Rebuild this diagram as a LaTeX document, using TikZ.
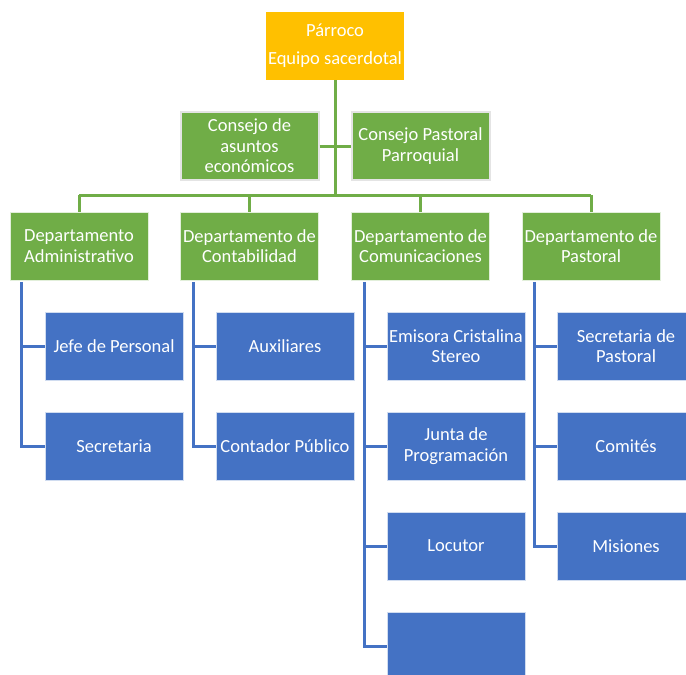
\documentclass[tikz,border=0pt]{standalone}
\usepackage{fontspec}
\setmainfont{Carlito}
\usetikzlibrary{calc}
\definecolor{cgreen}{HTML}{70AD47}
\definecolor{cblue}{HTML}{4472C4}
\definecolor{cgold}{HTML}{FFC000}
\definecolor{cgray}{HTML}{E4E4E4}
\begin{document}
\begin{tikzpicture}[x=1pt,y=-1pt,
  base/.style={minimum width=138pt,minimum height=68pt,inner sep=1pt,align=center,text=white,
    font=\fontsize{18.5}{20.5}\selectfont},
  goldbox/.style={base,fill=cgold,font=\fontsize{18.5}{28}\selectfont},
  councilbox/.style={base,fill=cgreen,draw=cgray,line width=2pt},
  deptbox/.style={base,fill=cgreen,draw=white!80!cgreen,line width=0.6pt},
  subbox/.style={base,fill=cblue,draw=white!75!cblue,line width=0.6pt},
  gline/.style={draw=cgreen,line width=3pt},
  bline/.style={draw=cblue,line width=3pt}]
\clip (0,0) rectangle (686,675);
\fill[white] (0,0) rectangle (686,675);
\coordinate (hub) at (335,195);
\coordinate (hl) at (79,195);
\coordinate (hr) at (591,195);
\node[goldbox] (p) at (335,46) {Párroco\\Equipo sacerdotal};
\node[councilbox] (ca) at (249.5,146) {Consejo de\\asuntos\\económicos};
\node[councilbox] (cp) at (420.5,146) {Consejo Pastoral\\Parroquial};
\node[deptbox] (da) at (79,246) {Departamento\\Administrativo};
\node[deptbox] (dc) at (249.5,246) {Departamento de\\Contabilidad};
\node[deptbox] (dm) at (420.5,246) {Departamento de\\Comunicaciones};
\node[deptbox] (dp) at (591,246) {Departamento de\\Pastoral};
\node[subbox] (a1) at (114,346) {Jefe de Personal};
\node[subbox] (a2) at (114,446) {Secretaria};
\node[subbox] (c1) at (285,346) {Auxiliares};
\node[subbox] (c2) at (285,446) {Contador Público};
\node[subbox] (m1) at (456,346) {Emisora Cristalina\\Stereo};
\node[subbox] (m2) at (456,446) {Junta de\\Programación};
\node[subbox] (m3) at (456,546) {Locutor};
\node[subbox] (m4) at (456,646) {};
\node[subbox] (s1) at (626,346) {Secretaria de\\Pastoral};
\node[subbox] (s2) at (626,446) {Comités};
\node[subbox] (s3) at (626,546) {Misiones};
% green connectors
\draw[gline] (p.south) -- (hub);
\draw[gline] (ca.east) -- (cp.west);
\draw[gline] (hl) -- (hr);
\draw[gline] (hl) -- (da.north);
\draw[gline] ($(hub)+(-85.5,0)$) -- (dc.north);
\draw[gline] ($(hub)+(85.5,0)$) -- (dm.north);
\draw[gline] (hr) -- (dp.north);
% blue connectors
\draw[bline] ($(da.south west)+(12,2)$) |- (a1.west);
\draw[bline] ($(da.south west)+(12,2)$) |- (a2.west);
\draw[bline] ($(dc.south west)+(13,2)$) |- (c1.west);
\draw[bline] ($(dc.south west)+(13,2)$) |- (c2.west);
\draw[bline] ($(dm.south west)+(13,2)$) |- (m1.west);
\draw[bline] ($(dm.south west)+(13,2)$) |- (m2.west);
\draw[bline] ($(dm.south west)+(13,2)$) |- (m3.west);
\draw[bline] ($(dm.south west)+(13,2)$) |- (m4.west);
\draw[bline] ($(dp.south west)+(13,2)$) |- (s1.west);
\draw[bline] ($(dp.south west)+(13,2)$) |- (s2.west);
\draw[bline] ($(dp.south west)+(13,2)$) |- (s3.west);
\end{tikzpicture}
\end{document}
